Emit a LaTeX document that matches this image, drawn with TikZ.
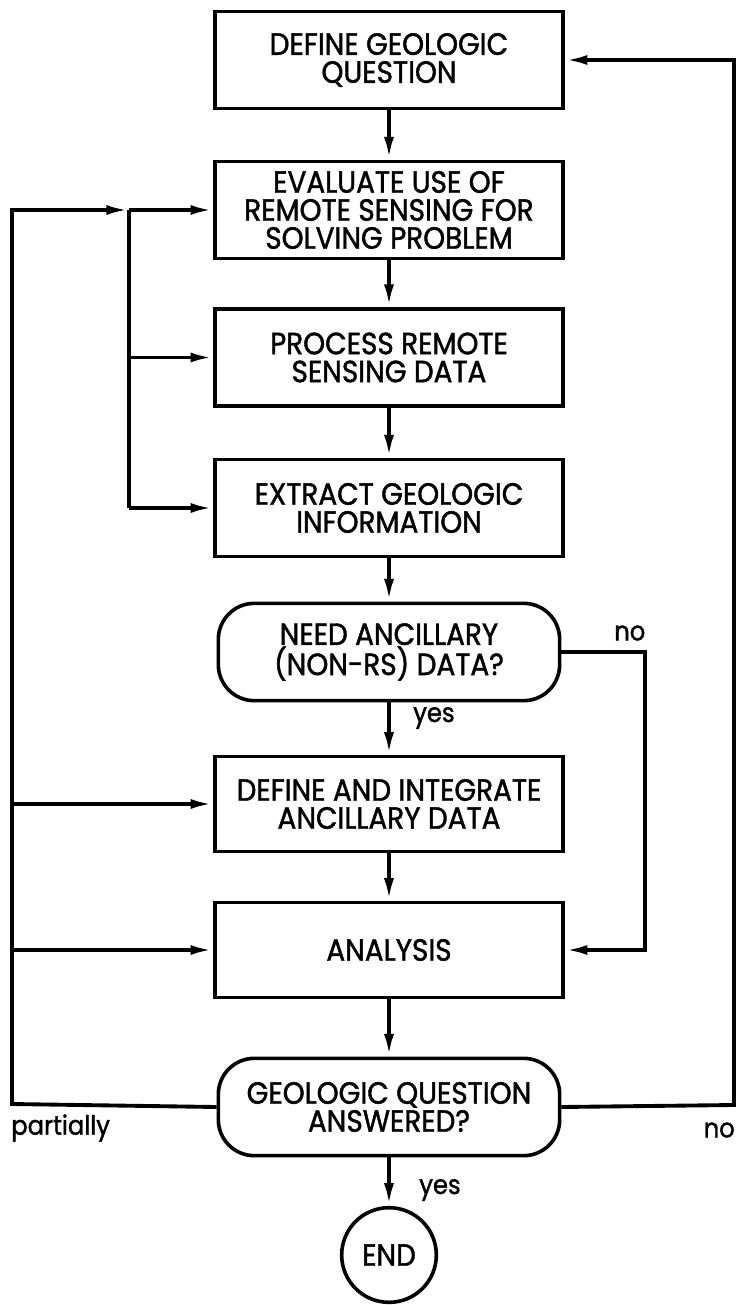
\documentclass[tikz,border=0pt]{standalone}
\usepackage{fontspec}
\setmainfont{Poppins}[FakeStretch=0.91,FakeBold=1.4]
\usetikzlibrary{arrows.meta}
\begin{document}
\begin{tikzpicture}[x=0.75pt,y=-0.75pt,
  every node/.style={font=\fontsize{23}{21}\selectfont},
  box/.style={draw,line width=2.7pt,minimum width=261pt,minimum height=73pt,align=center,inner sep=0pt},
  decide/.style={box,rounded corners=27pt,minimum width=256pt},
  endnode/.style={draw,circle,line width=2.7pt,minimum size=71pt,inner sep=0pt},
  lab/.style={font=\fontsize{20}{22}\selectfont,inner sep=0pt},
  line/.style={line width=2.9pt},
  arr/.style={line,-{Latex[length=17pt,width=7.5pt]}},
]
\useasboundingbox (0,0) rectangle (737,1305);
\node[box] (b1) at (389,60) {DEFINE GEOLOGIC\\QUESTION};
\node[box] (b2) at (389,210) {EVALUATE USE OF\\REMOTE SENSING FOR\\SOLVING PROBLEM};
\node[box] (b3) at (389,357.5) {PROCESS REMOTE\\SENSING DATA};
\node[box] (b4) at (389,508) {EXTRACT GEOLOGIC\\INFORMATION};
\node[decide] (d1) at (389,652) {NEED ANCILLARY\\(NON-RS) DATA?};
\node[box,minimum height=71pt] (b5) at (389,804) {DEFINE AND INTEGRATE\\ANCILLARY DATA};
\node[box,minimum height=71pt] (b6) at (389,950) {ANALYSIS};
\node[decide] (d2) at (389,1107) {GEOLOGIC QUESTION\\ANSWERED?};
\node[endnode] (e) at (389,1255) {END};

\coordinate (LT) at (12,210);
\coordinate (J) at (129,210);
\coordinate (LB) at (12,1104);
\coordinate (J3) at (129,357.5);
\coordinate (J4) at (129,508);
\coordinate (L5) at (12,804);
\coordinate (L6) at (12,950);
\coordinate (RB) at (734,1105);
\coordinate (RT) at (734,60);
\coordinate (N1) at (645,652);
\coordinate (N2) at (645,950);

\draw[arr] (b1.south) -- (b2.north);
\draw[arr] (b2.south) -- (b3.north);
\draw[arr] (b3.south) -- (b4.north);
\draw[arr] (b4.south) -- (d1.north);
\draw[arr] (d1.south) -- (b5.north);
\draw[arr] (b5.south) -- (b6.north);
\draw[arr] (b6.south) -- (d2.north);
\draw[arr] (d2.south) -- (e.north);

\draw[arr] (d2.west) -- (LB) -- (LT) -- (J);
\draw[arr] (J) -- (b2.west);
\draw[line] (J) -- (J4);
\draw[arr] (J3) -- (b3.west);
\draw[arr] (J4) -- (b4.west);
\draw[arr] (L5) -- (b5.west);
\draw[arr] (L6) -- (b6.west);
\draw[arr] (d2.east) -- (RB) -- (RT) -- (b1.east);
\draw[arr] (d1.east) -- (N1) -- (N2) -- (b6.east);

\node[lab,anchor=west] (lno1) at (614,633) {no};
\node[lab,anchor=west] (lyes1) at (413,718) {yes};
\node[lab,anchor=west] (lpart) at (11,1128) {partially};
\node[lab,anchor=east] (lno2) at (735,1130) {no};
\node[lab,anchor=west] (lyes2) at (419,1190) {yes};
\end{tikzpicture}
\end{document}
